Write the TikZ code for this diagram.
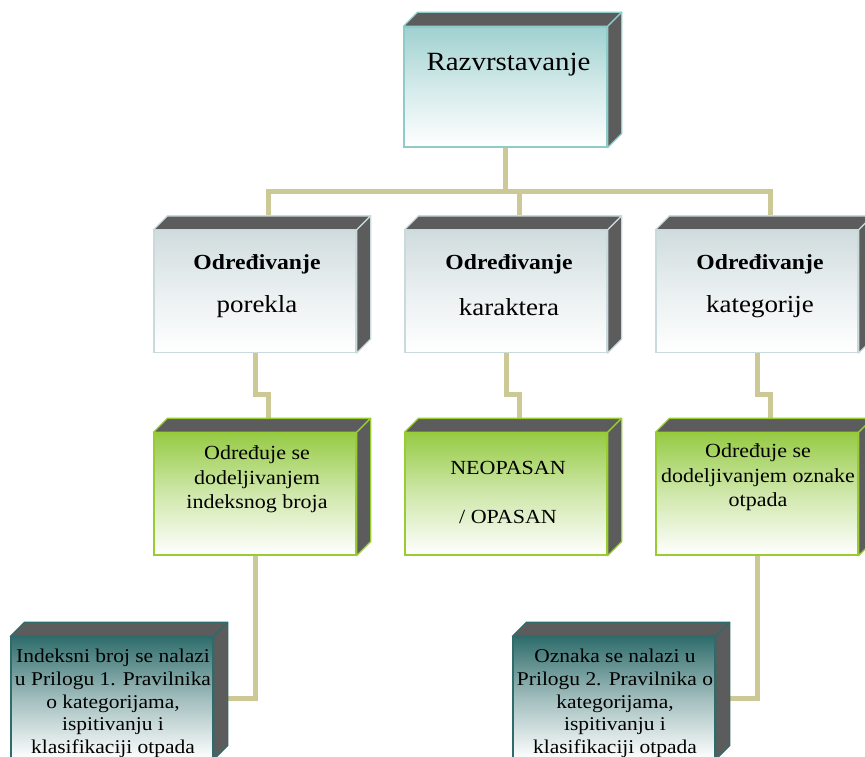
\documentclass[tikz,border=0pt]{standalone}
\usepackage{fontspec}
\newfontfamily\cf[FakeStretch=1.1]{Liberation Serif}
\usetikzlibrary{calc,backgrounds}
\definecolor{conncol}{HTML}{CCC996}
\definecolor{facegray}{HTML}{5C5C5C}
\definecolor{topb}{HTML}{8FCBC8}
\definecolor{topc}{HTML}{9FD1D0}
\definecolor{midb}{HTML}{C9D9DC}
\definecolor{midc}{HTML}{D0DCDE}
\definecolor{grnb}{HTML}{99CC33}
\definecolor{grnc}{HTML}{96CB45}
\definecolor{botb}{HTML}{2E6B6A}
\definecolor{botc}{HTML}{2F6D6C}
\tikzset{
  cube/.style n args={2}{rectangle, draw=#1, line width=1.3pt, inner sep=0pt,
    top color=#2, bottom color=white, middle color=#2!45!white,
    minimum width=202pt, minimum height=122pt},
  conn/.style={draw=conncol, line width=5pt},
  lbl/.style={align=center, inner sep=0pt, font=\cf\fontsize{20}{24.5}\selectfont},
  lblb/.style={align=center, inner sep=0pt, font=\cf\fontsize{19.5}{22.6}\selectfont},
  hd/.style={inner sep=0pt, font=\cf\bfseries\fontsize{21.5}{25}\selectfont},
  sub/.style={inner sep=0pt, font=\cf\fontsize{24.5}{28}\selectfont},
}
\newcommand\cubefaces[2]{%
  \filldraw[fill=facegray, draw=#2, line width=1.3pt, line join=round]
    (#1.north west) -- ($(#1.north west)+(14,-14)$) -- ($(#1.north east)+(14,-14)$) -- (#1.north east) -- cycle;
  \filldraw[fill=facegray, draw=#2, line width=1.3pt, line join=round]
    (#1.north east) -- ($(#1.north east)+(14,-14)$) -- ($(#1.south east)+(14,-14)$) -- (#1.south east) -- cycle;
}
\begin{document}
\begin{tikzpicture}[x=1pt,y=-1pt]
\useasboundingbox (0,0) rectangle (865,757);
\clip (0,0) rectangle (865,757);
% boxes
\node[cube={topb}{topc}, minimum width=203pt, minimum height=120pt] (top) at (505.5,87) {};
\node[cube={midb}{midc}] (m1) at (255,291.5) {};
\node[cube={midb}{midc}] (m2) at (506,291.5) {};
\node[cube={midb}{midc}] (m3) at (757,291.5) {};
\node[cube={grnb}{grnc}] (g1) at (255,494) {};
\node[cube={grnb}{grnc}] (g2) at (506,494) {};
\node[cube={grnb}{grnc}] (g3) at (757,494) {};
\node[cube={botb}{botc}] (b1) at (112,698) {};
\node[cube={botb}{botc}] (b2) at (614,698) {};
\cubefaces{top}{topb}
\cubefaces{m1}{midb}
\cubefaces{m2}{midb}
\cubefaces{m3}{midb}
\cubefaces{g1}{grnb}
\cubefaces{g2}{grnb}
\cubefaces{g3}{grnb}
\cubefaces{b1}{botb}
\cubefaces{b2}{botb}
% texts
\node[inner sep=0pt, font=\cf\fontsize{26.3}{30}\selectfont] (topt) at ($(top.north)+(3,38)$) {Razvrstavanje};
\node[hd] (m1a) at ($(m1.north)+(2,34)$) {Određivanje};
\node[sub] (m1b) at ($(m1.north)+(2,77)$) {porekla};
\node[hd] (m2a) at ($(m2.north)+(3,34)$) {Određivanje};
\node[sub] (m2b) at ($(m2.north)+(3,77)$) {karaktera};
\node[hd] (m3a) at ($(m3.north)+(3,34)$) {Određivanje};
\node[sub] (m3b) at ($(m3.north)+(3,77)$) {kategorije};
\node[lbl] (g1t) at ($(g1.north)+(2,47)$) {Određuje se\\dodeljivanjem\\indeksnog broja};
\node[lbl] (g2t) at ($(g2.north)+(2,60)$) {NEOPASAN\\[25pt]/ OPASAN};
\node[lbl] (g3t) at ($(g3.north)+(1,45)$) {Određuje se\\dodeljivanjem oznake\\otpada};
\node[lblb] (b1t) at ($(b1.north)+(1,67)$) {Indeksni broj se nalazi\\u Prilogu 1. Pravilnika\\o kategorijama,\\ispitivanju i\\klasifikaciji otpada};
\node[lblb] (b2t) at ($(b2.north)+(1,67)$) {Oznaka se nalazi u\\Prilogu 2. Pravilnika o\\kategorijama,\\ispitivanju i\\klasifikaciji otpada};
% attachment points on the top faces
\coordinate (m1k) at ($(m1.north)+(13,-13)$);
\coordinate (m2k) at ($(m2.north)+(13,-13)$);
\coordinate (m3k) at ($(m3.north)+(13,-13)$);
\coordinate (g1k) at ($(g1.north)+(13,-13)$);
\coordinate (g2k) at ($(g2.north)+(13,-13)$);
\coordinate (g3k) at ($(g3.north)+(13,-13)$);
\coordinate (bus) at (0,191);
% connectors
\begin{scope}[on background layer]
\draw[conn] (top.south) -- (top.south |- bus);
\draw[conn, line join=miter] (m1k) -- (m1k |- bus) -- (m3k |- bus) -- (m3k);
\draw[conn] (m2k |- bus) -- (m2k);
\draw[conn, line join=miter] (m1.south) -- ++(0,41) -| (g1k);
\draw[conn, line join=miter] (m2.south) -- ++(0,41) -| (g2k);
\draw[conn, line join=miter] (m3.south) -- ++(0,41) -| (g3k);
\draw[conn, line join=miter] (g1.south) |- (b1.east);
\draw[conn, line join=miter] (g3.south) |- (b2.east);
\end{scope}
\end{tikzpicture}
\end{document}
